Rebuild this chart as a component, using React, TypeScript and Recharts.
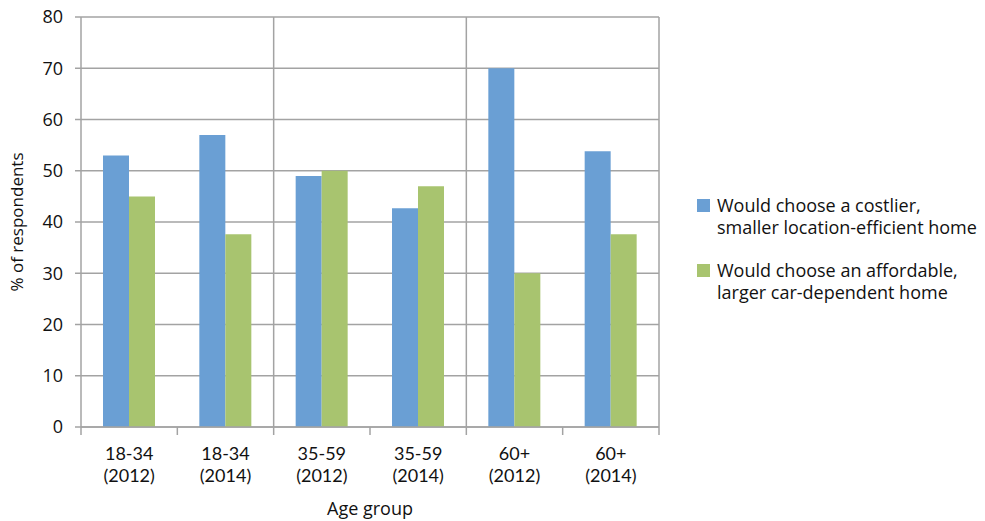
import { Bar, BarChart, CartesianGrid, Legend, ReferenceLine, XAxis, YAxis } from "recharts";

const categories = [
  "18-34 (2012)",
  "18-34 (2014)",
  "35-59 (2012)",
  "35-59 (2014)",
  "60+ (2012)",
  "60+ (2014)",
];
const costlierSmaller = [53, 57, 49, 42.7, 70, 53.8];
const affordableLarger = [45, 37.6, 50, 47, 30, 37.6];
const yTicks = [0, 10, 20, 30, 40, 50, 60, 70, 80];
const seriesNames = [
  "Would choose a costlier,\nsmaller location-efficient home",
  "Would choose an affordable,\nlarger car-dependent home",
];
// vertical separator lines drawn at the start of these groups
const separators = ["35-59 (2012)", "60+ (2012)"];

const data = categories.map((group, i) => ({
  group,
  costlier: costlierSmaller[i],
  affordable: affordableLarger[i],
}));

const FONT = "'Open Sans', 'Noto Sans', sans-serif";
const GRID = "#a3a3a3";
const BLUE = "#6a9fd4";
const GREEN = "#a8c46f";

function CategoryTick(props: any) {
  const { x, y, payload } = props;
  const half = payload.offset ?? 0;
  const idx = payload.index ?? props.index;
  const [age, year] = String(payload.value).split(" ");
  // two stacked lines; Lato keeps the line boxes apart at this tight spacing
  return (
    <g>
      <line x1={x - half} x2={x - half} y1={y - 8} y2={y} stroke={GRID} strokeWidth={1.5} />
      {idx === categories.length - 1 && (
        <line x1={x + half} x2={x + half} y1={y - 8} y2={y} stroke={GRID} strokeWidth={1.5} />
      )}
      <text x={x} y={y + 25} textAnchor="middle" fontSize={18} fontFamily="Lato" fill="#111">
        {age}
      </text>
      <text x={x} y={y + 46.5} textAnchor="middle" fontSize={18} fontFamily="Lato" fill="#111">
        {year}
      </text>
    </g>
  );
}

function LegendBox({ payload }: any) {
  return (
    <div style={{ fontFamily: FONT, fontSize: 18, lineHeight: "22px", color: "#111" }}>
      {(payload ?? []).map((p: any, i: number) => (
        <div key={i} style={{ display: "flex", alignItems: "flex-start", marginBottom: i === 0 ? 21 : 0 }}>
          <span
            style={{
              width: 13,
              height: 13,
              background: p.color,
              marginTop: 5,
              marginRight: 7,
              flexShrink: 0,
            }}
          />
          <span style={{ whiteSpace: "pre" }}>{p.value}</span>
        </div>
      ))}
    </div>
  );
}

export default function App() {
  return (
    <div style={{ fontFamily: FONT, width: 985, height: 521, background: "#fff" }}>
      <style>{"body{margin:0}"}</style>
      <BarChart width={985} height={521} data={data} margin={{ top: 17, right: 326, bottom: 0, left: 0 }} barGap={0}>
        <CartesianGrid vertical={false} stroke={GRID} strokeWidth={1.5} />
        <XAxis
          dataKey="group"
          interval={0}
          height={94}
          tickSize={8}
          tickMargin={0}
          tickLine={false}
          axisLine={{ stroke: GRID, strokeWidth: 1.5 }}
          tick={<CategoryTick />}
          label={{ value: "Age group", position: "insideBottom", offset: 6, fill: "#111", fontSize: 18 }}
        />
        <YAxis
          domain={[0, 80]}
          ticks={yTicks}
          width={81}
          tickSize={6}
          tickMargin={12}
          axisLine={{ stroke: GRID, strokeWidth: 1.5 }}
          tickLine={{ stroke: GRID, strokeWidth: 1.5 }}
          tick={{ fill: "#111", fontSize: 18 }}
          label={{
            value: "% of respondents",
            angle: -90,
            position: "insideLeft",
            offset: 17,
            fill: "#111",
            fontSize: 17,
            style: { textAnchor: "middle" },
          }}
        />
        {separators.map((s) => (
          <ReferenceLine key={s} x={s} position="start" stroke={GRID} strokeWidth={1.5} />
        ))}
        <ReferenceLine x={categories[categories.length - 1]} position="end" stroke={GRID} strokeWidth={1.5} />
        <Legend
          layout="vertical"
          align="center"
          verticalAlign="middle"
          width={288}
          content={<LegendBox />}
          wrapperStyle={{ left: 697, top: 194 }}
        />
        <Bar dataKey="costlier" name={seriesNames[0]} fill={BLUE} barSize={26} isAnimationActive={false} />
        <Bar dataKey="affordable" name={seriesNames[1]} fill={GREEN} barSize={26} isAnimationActive={false} />
      </BarChart>
    </div>
  );
}
